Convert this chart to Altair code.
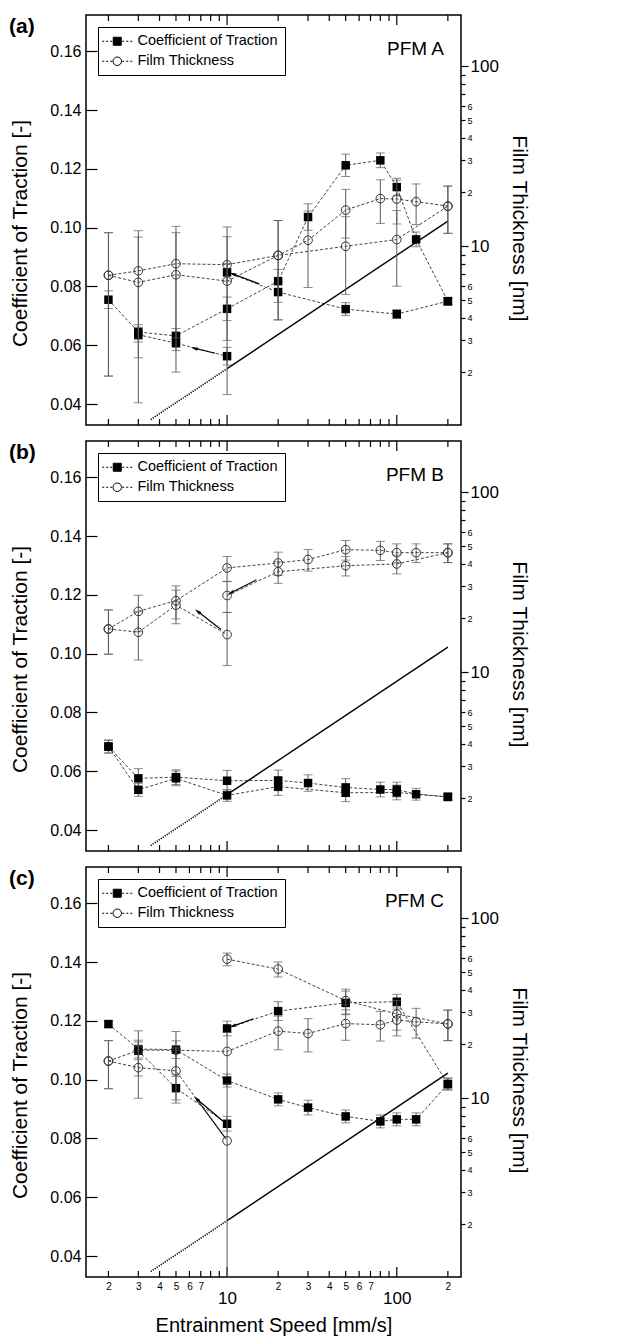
import math
import altair as alt
import pandas as pd

# ---------------- values ----------------
# Panel (a) PFM A -- coefficient of traction, three connected sweeps
A_TRAC1_X = [2, 3, 5, 10, 20, 30, 50, 80, 100, 130, 200]
A_TRAC1_Y = [0.0755, 0.0645, 0.0632, 0.0724, 0.0818, 0.1036, 0.1212, 0.1229, 0.1138, 0.0960, 0.0750]
A_TRAC1_E = [0.0030, 0.0025, 0.0025, 0.0040, 0.0040, 0.0045, 0.0038, 0.0025, 0.0030, 0.0025, 0.0012]
A_TRAC2_X = [3, 5, 10]
A_TRAC2_Y = [0.0636, 0.0607, 0.0563]
A_TRAC2_E = [0.0025, 0.0025, 0.0030]
A_TRAC3_X = [10, 20, 50, 100, 200]
A_TRAC3_Y = [0.0848, 0.0781, 0.0723, 0.0706, 0.0750]
A_TRAC3_E = [0.0030, 0.0035, 0.0022, 0.0015, 0.0012]
# Panel (a) film thickness [nm]
A_FILM1_X = [2, 3, 5, 10, 20, 30, 50, 80, 100, 130, 200]
A_FILM1_Y = [6.9, 7.3, 8.0, 7.9, 8.9, 10.8, 15.9, 18.4, 18.3, 17.7, 16.7]
A_FILM1_E = [5.0, 4.9, 4.9, 4.9, 5.0, 4.9, 4.8, 5.0, 5.0, 4.5, 4.9]
A_FILM2_X = [2, 3, 5, 10, 20, 50, 100, 200]
A_FILM2_Y = [6.9, 6.3, 6.95, 6.4, 8.9, 10.0, 10.9, 16.7]
A_FILM2_E = [5.0, 4.95, 4.95, 4.9, 5.0, 4.6, 4.9, 4.9]
A_ARROW_FROM_X = [15.5, 8.5]
A_ARROW_FROM_Y = [0.0809, 0.0573]
A_ARROW_TO_X = [10.8, 6.4]
A_ARROW_TO_Y = [0.0843, 0.0590]

# Panel (b) PFM B
B_TRAC1_X = [2, 3, 5, 10, 20, 30, 50, 80, 100, 130, 200]
B_TRAC1_Y = [0.0684, 0.0576, 0.0580, 0.0568, 0.0569, 0.0560, 0.0545, 0.0538, 0.0538, 0.0522, 0.0513]
B_TRAC1_E = [0.0022, 0.0033, 0.0025, 0.0035, 0.0035, 0.0028, 0.0030, 0.0025, 0.0025, 0.0020, 0.0010]
B_TRAC2_X = [2, 3, 5, 10, 20, 50, 100, 200]
B_TRAC2_Y = [0.0684, 0.0537, 0.0576, 0.0518, 0.0548, 0.0527, 0.0528, 0.0513]
B_TRAC2_E = [0.0022, 0.0022, 0.0025, 0.0020, 0.0030, 0.0030, 0.0025, 0.0010]
B_FILM1_X = [2, 3, 5, 10, 20, 30, 50, 80, 100, 130, 200]
B_FILM1_Y = [17.4, 21.8, 25.0, 38.0, 40.5, 42.3, 48.0, 47.6, 46.2, 46.2, 46.2]
B_FILM1_E = [4.8, 5.0, 5.2, 6.0, 6.0, 5.8, 6.0, 5.8, 5.5, 5.5, 5.5]
B_FILM2_X = [2, 3, 5, 10]
B_FILM2_Y = [17.4, 16.7, 23.6, 16.2]
B_FILM2_E = [4.8, 5.0, 5.0, 5.3]
B_FILM3_X = [10, 20, 50, 100, 200]
B_FILM3_Y = [26.7, 36.2, 39.1, 40.0, 46.2]
B_FILM3_E = [5.2, 5.0, 4.8, 4.8, 5.5]
B_ARROW_FROM_X = [9.2, 14.9]
B_ARROW_FROM_Y = [0.1082, 0.1251]
B_ARROW_TO_X = [6.7, 10.5]
B_ARROW_TO_Y = [0.1144, 0.1206]

# Panel (c) PFM C
C_TRAC1_X = [2, 3, 5, 10, 20, 30, 50, 80, 100, 130, 200]
C_TRAC1_Y = [0.1189, 0.1104, 0.1102, 0.0997, 0.0933, 0.0905, 0.0875, 0.0858, 0.0865, 0.0865, 0.0985]
C_TRAC1_E = [0.0012, 0.0030, 0.0030, 0.0022, 0.0022, 0.0025, 0.0022, 0.0022, 0.0022, 0.0022, 0.0020]
C_TRAC2_X = [3, 5, 10]
C_TRAC2_Y = [0.1098, 0.0971, 0.0850]
C_TRAC2_E = [0.0030, 0.0040, 0.0025]
C_TRAC3_X = [10, 20, 50, 100, 200]
C_TRAC3_Y = [0.1174, 0.1233, 0.1261, 0.1265, 0.0985]
C_TRAC3_E = [0.0025, 0.0032, 0.0040, 0.0025, 0.0020]
C_FILM1_X = [2, 3, 5, 10, 20, 30, 50, 80, 100, 130, 200]
C_FILM1_Y = [16.1, 18.5, 18.5, 18.2, 23.6, 22.9, 26.0, 25.6, 27.2, 26.6, 25.9]
C_FILM1_E = [4.8, 5.2, 5.0, 5.0, 5.0, 4.8, 5.0, 4.8, 5.0, 5.0, 5.0]
C_FILM2_X = [2, 3, 5, 10]
C_FILM2_Y = [16.1, 14.8, 14.2, 5.8]
C_FILM2_E = [4.8, 4.8, 4.8, 6.2]
C_FILM3_X = [10, 20, 50, 100, 200]
C_FILM3_Y = [59.3, 52.2, 34.9, 29.4, 25.9]
C_FILM3_E = [4.8, 5.0, 5.5, 5.5, 5.0]
C_ARROW_FROM_X = [9.8, 9.8, 14.3]
C_ARROW_FROM_Y = [0.0852, 0.0800, 0.1207]
C_ARROW_TO_X = [6.6, 6.6, 10.8]
C_ARROW_TO_Y = [0.0935, 0.0935, 0.1182]

# theoretical film thickness line [nm] (dotted part then solid part)
THEORY_DOT_X = [3.55, 10]
THEORY_DOT_Y = [1.09, 2.09]
THEORY_X = [10, 200]
THEORY_Y = [2.09, 13.8]

PANEL_TAGS = ["(a)", "(b)", "(c)"]
PANEL_NAMES = ["PFM A", "PFM B", "PFM C"]
LEGEND_LABELS = ["Coefficient of Traction", "Film Thickness"]

TRAC_TICKS = [0.04, 0.06, 0.08, 0.10, 0.12, 0.14, 0.16]
FILM_TICKS = [2, 3, 4, 5, 6, 7, 8, 9, 10, 20, 30, 40, 50, 60, 70, 80, 90, 100]
X_TICKS_MINOR = [2, 3, 4, 5, 6, 7, 8, 9, 20, 30, 40, 50, 60, 70, 80, 90, 200]
X_TICKS_MAJOR = [10, 100]

# ---------------- layout / style ----------------
W, H = 375, 410
X_DOMAIN = [1.475, 239.0]
TRAC_DOMAIN = [0.0329, 0.1723]
FILM_DOMAIN = [1.016, 192.8]
FONT = "Liberation Sans"
ERR = "#5a5a5a"
LINE = "#444444"
U = alt.Undefined

XSCALE = alt.Scale(type="log", domain=X_DOMAIN, nice=False)
TSCALE = alt.Scale(type="linear", domain=TRAC_DOMAIN, nice=False, zero=False)
FSCALE = alt.Scale(type="log", domain=FILM_DOMAIN, nice=False)

LEG_SQ = ("M-3,0H-2.6M-2.2,0H-1.8M-1.4,0H-1.0M1.0,0H1.4M1.8,0H2.2M2.6,0H3"
          "M-0.8,-0.8H0.8V0.8H-0.8Z")
LEG_CI = ("M-3,0H-2.6M-2.2,0H-1.8M-1.4,0H-1.0M1.0,0H1.4M1.8,0H2.2M2.6,0H3"
          "M0.85,0A0.85,0.85,0,1,1,-0.85,0A0.85,0.85,0,1,1,0.85,0Z")
ARROW_HEAD = "M0,-1L0.5,1L-0.5,1Z"

MAJOR_TEST = "datum.value == 10 || datum.value == 100"


def px(x):
    l0, l1 = math.log10(X_DOMAIN[0]), math.log10(X_DOMAIN[1])
    return W * (math.log10(x) - l0) / (l1 - l0)


def py(v):
    return H * (TRAC_DOMAIN[1] - v) / (TRAC_DOMAIN[1] - TRAC_DOMAIN[0])


def make_df(series, floor=None):
    rows = []
    for sid, (xs, ys, es) in enumerate(series):
        for x, y, e in zip(xs, ys, es):
            lo = y - e
            if floor is not None:
                lo = max(lo, floor)
            rows.append({"speed": x, "value": y, "lo": lo, "hi": y + e, "sid": "s%d" % sid})
    return pd.DataFrame(rows)


def build_panel(idx, trac_series, film_series, arrows, bottom_axis):
    tdf = make_df(trac_series)
    fdf = make_df(film_series, floor=0.3)

    if bottom_axis:
        x_first = alt.Axis(
            values=X_TICKS_MINOR + X_TICKS_MAJOR, ticks=False, domain=False, grid=False,
            labelExpr=("datum.value == 10 || datum.value == 100 ? toString(datum.value) : "
                       "(datum.value < 10 ? (datum.value <= 7 ? toString(datum.value) : '') : "
                       "(datum.value < 100 ? (datum.value <= 70 ? toString(datum.value / 10) : '') : "
                       "toString(datum.value / 100)))"),
            labelFontSize={"condition": {"test": MAJOR_TEST, "value": 17}, "value": 10},
            labelPadding={"condition": {"test": MAJOR_TEST, "value": 13}, "value": 4},
            labelOverlap=False, labelFlush=False, labelBound=False,
            title="Entrainment Speed [mm/s]", titleFontSize=20, titleFontWeight="normal",
            titlePadding=9,
        )
        x_rest = U
    else:
        x_first = None
        x_rest = None

    def X(field="speed", first=False):
        return alt.X(field + ":Q", scale=XSCALE, axis=(x_first if first else x_rest))

    left_axis = alt.Axis(
        values=TRAC_TICKS, format=".2f", tickSize=11, offset=-11, domain=False, grid=False,
        labelPadding=5, labelFontSize=16, tickWidth=1.2, labelFlush=False,
        title="Coefficient of Traction [-]", titleFontSize=21, titleFontWeight="normal",
        titlePadding=19, titleY=H / 2 + 13,
    )
    right_axis = alt.Axis(
        orient="right", values=FILM_TICKS, domain=False, grid=False, tickWidth=1.2,
        tickSize={"condition": {"test": MAJOR_TEST, "value": 7}, "value": 4},
        labelExpr=("datum.value == 10 || datum.value == 100 ? toString(datum.value) : "
                   "(datum.value <= 6 ? toString(datum.value) : "
                   "(datum.value >= 20 && datum.value <= 60 ? toString(datum.value / 10) : ''))"),
        labelFontSize={"condition": {"test": MAJOR_TEST, "value": 17}, "value": 9},
        labelPadding=2, labelOverlap=False, labelFlush=False, labelBound=False,
        title="Film Thickness [nm]", titleFontSize=21, titleFontWeight="normal",
        titlePadding=10, titleY=H / 2 + 8,
    )

    def YT(field, axis=U):
        return alt.Y(field + ":Q", scale=TSCALE, axis=axis)

    def YF(field, axis=U):
        return alt.Y(field + ":Q", scale=FSCALE, axis=axis)

    # ---- traction (left axis) ----
    tbase = alt.Chart(tdf)
    t_err = tbase.mark_rule(color=ERR, strokeWidth=1).encode(
        x=X(first=True), y=YT("lo", left_axis), y2="hi:Q")
    t_cap_lo = tbase.mark_tick(orient="horizontal", size=9, thickness=1, color=ERR).encode(
        x=X(), y=YT("lo"))
    t_cap_hi = tbase.mark_tick(orient="horizontal", size=9, thickness=1, color=ERR).encode(
        x=X(), y=YT("hi"))
    t_line = tbase.mark_line(strokeDash=[3, 2], color=LINE, strokeWidth=1).encode(
        x=X(), y=YT("value"), detail="sid:N")
    t_pts = tbase.mark_point(shape="square", filled=True, size=72, color="black", opacity=1).encode(
        x=X(), y=YT("value"))

    fx, fy, tx, ty = arrows
    arows = []
    for a, b, c, d in zip(fx, fy, tx, ty):
        ang = math.degrees(math.atan2(px(c) - px(a), -(py(d) - py(b)))) % 360
        arows.append({"fx": a, "fy": b, "tx": c, "ty": d, "ang": ang})
    adf = pd.DataFrame(arows)
    a_line = alt.Chart(adf).mark_rule(color="black", strokeWidth=1.2).encode(
        x=X("fx"), y=YT("fy"), x2="tx:Q", y2="ty:Q")
    a_head = alt.Chart(adf).mark_point(shape=ARROW_HEAD, filled=True, size=45, color="black",
                                       opacity=1).encode(
        x=X("tx"), y=YT("ty"), angle=alt.Angle("ang:Q", scale=None))

    tick_layers = []
    for vals, ln in ((X_TICKS_MINOR, 6), (X_TICKS_MAJOR, 10)):
        kdf = pd.DataFrame({"t": vals})
        tick_layers.append(alt.Chart(kdf).mark_rule(color="black", strokeWidth=1.2).encode(
            x=X("t"), y=alt.value(0), y2=alt.value(ln)))
        tick_layers.append(alt.Chart(kdf).mark_rule(color="black", strokeWidth=1.2).encode(
            x=X("t"), y=alt.value(H), y2=alt.value(H - ln)))

    leg = alt.Legend(
        title=None, orient="top-left", offset=12, padding=7, strokeColor="black",
        fillColor="white", labelFont=FONT, labelFontSize=14.5, labelColor="black",
        symbolSize=100, symbolStrokeWidth=1, symbolOpacity=1, rowPadding=5,
        labelOffset=13, symbolOffset=5, labelLimit=400,
    )
    ldf = pd.DataFrame({"series": LEGEND_LABELS})
    legend_layer = alt.Chart(ldf).mark_point(filled=True, size=0, opacity=0).encode(
        shape=alt.Shape("series:N", scale=alt.Scale(domain=LEGEND_LABELS, range=[LEG_SQ, LEG_CI]),
                        legend=leg),
        fill=alt.Fill("series:N", scale=alt.Scale(domain=LEGEND_LABELS, range=["black", "white"]),
                      legend=leg),
        stroke=alt.value("black"),
    )

    tag = alt.Chart(pd.DataFrame({"t": [PANEL_TAGS[idx]]})).mark_text(
        align="left", baseline="middle", fontSize=21, fontWeight="bold", font=FONT,
        color="black").encode(x=alt.value(-77), y=alt.value(12), text="t:N")
    name = alt.Chart(pd.DataFrame({"t": [PANEL_NAMES[idx]]})).mark_text(
        align="right", baseline="alphabetic", fontSize=19, font=FONT,
        color="black").encode(x=alt.value(W - 17), y=alt.value(40), text="t:N")

    trac_layer = alt.layer(t_err, t_cap_lo, t_cap_hi, t_line, a_line, a_head, t_pts,
                           *tick_layers, legend_layer, tag, name)

    # ---- film thickness (right axis, log) ----
    th_dot = alt.Chart(pd.DataFrame({"speed": THEORY_DOT_X, "value": THEORY_DOT_Y})).mark_line(
        color="black", strokeWidth=1.6, strokeDash=[1.2, 1.2], clip=True).encode(
        x=X(), y=YF("value", right_axis))
    th_solid = alt.Chart(pd.DataFrame({"speed": THEORY_X, "value": THEORY_Y})).mark_line(
        color="black", strokeWidth=1.4, clip=True).encode(
        x=X(), y=YF("value"))
    fbase = alt.Chart(fdf)
    f_err = fbase.mark_rule(color=ERR, strokeWidth=1, clip=True).encode(
        x=X(), y=YF("lo"), y2="hi:Q")
    f_cap_lo = fbase.mark_tick(orient="horizontal", size=9, thickness=1, color=ERR,
                               clip=True).encode(x=X(), y=YF("lo"))
    f_cap_hi = fbase.mark_tick(orient="horizontal", size=9, thickness=1, color=ERR,
                               clip=True).encode(x=X(), y=YF("hi"))
    f_line = fbase.mark_line(strokeDash=[3, 2], color=LINE, strokeWidth=1).encode(
        x=X(), y=YF("value"), detail="sid:N")
    f_pts = fbase.mark_point(shape="circle", filled=False, size=75, color="#333333",
                             strokeWidth=1, opacity=1).encode(
        x=X(), y=YF("value"))
    film_layer = alt.layer(th_dot, th_solid, f_err, f_cap_lo, f_cap_hi, f_line, f_pts)

    return alt.layer(trac_layer, film_layer).resolve_scale(y="independent").properties(
        width=W, height=H)


panel_a = build_panel(
    0,
    [(A_TRAC1_X, A_TRAC1_Y, A_TRAC1_E), (A_TRAC2_X, A_TRAC2_Y, A_TRAC2_E),
     (A_TRAC3_X, A_TRAC3_Y, A_TRAC3_E)],
    [(A_FILM1_X, A_FILM1_Y, A_FILM1_E), (A_FILM2_X, A_FILM2_Y, A_FILM2_E)],
    (A_ARROW_FROM_X, A_ARROW_FROM_Y, A_ARROW_TO_X, A_ARROW_TO_Y), False)
panel_b = build_panel(
    1,
    [(B_TRAC1_X, B_TRAC1_Y, B_TRAC1_E), (B_TRAC2_X, B_TRAC2_Y, B_TRAC2_E)],
    [(B_FILM1_X, B_FILM1_Y, B_FILM1_E), (B_FILM2_X, B_FILM2_Y, B_FILM2_E),
     (B_FILM3_X, B_FILM3_Y, B_FILM3_E)],
    (B_ARROW_FROM_X, B_ARROW_FROM_Y, B_ARROW_TO_X, B_ARROW_TO_Y), False)
panel_c = build_panel(
    2,
    [(C_TRAC1_X, C_TRAC1_Y, C_TRAC1_E), (C_TRAC2_X, C_TRAC2_Y, C_TRAC2_E),
     (C_TRAC3_X, C_TRAC3_Y, C_TRAC3_E)],
    [(C_FILM1_X, C_FILM1_Y, C_FILM1_E), (C_FILM2_X, C_FILM2_Y, C_FILM2_E),
     (C_FILM3_X, C_FILM3_Y, C_FILM3_E)],
    (C_ARROW_FROM_X, C_ARROW_FROM_Y, C_ARROW_TO_X, C_ARROW_TO_Y), True)

chart = alt.vconcat(panel_a, panel_b, panel_c, spacing=12).resolve_scale(
    shape="independent", fill="independent"
).properties(
    padding={"left": 0, "top": 5, "right": 5, "bottom": 0},
    background="white",
).configure_view(
    stroke="black", strokeWidth=1.5
).configure_axis(
    labelFont=FONT, titleFont=FONT, labelColor="black", titleColor="black",
    tickColor="black", grid=False
).configure_legend(
    labelFont=FONT
)

chart.save("out.html", embed_options={"renderer": "svg", "actions": False})
